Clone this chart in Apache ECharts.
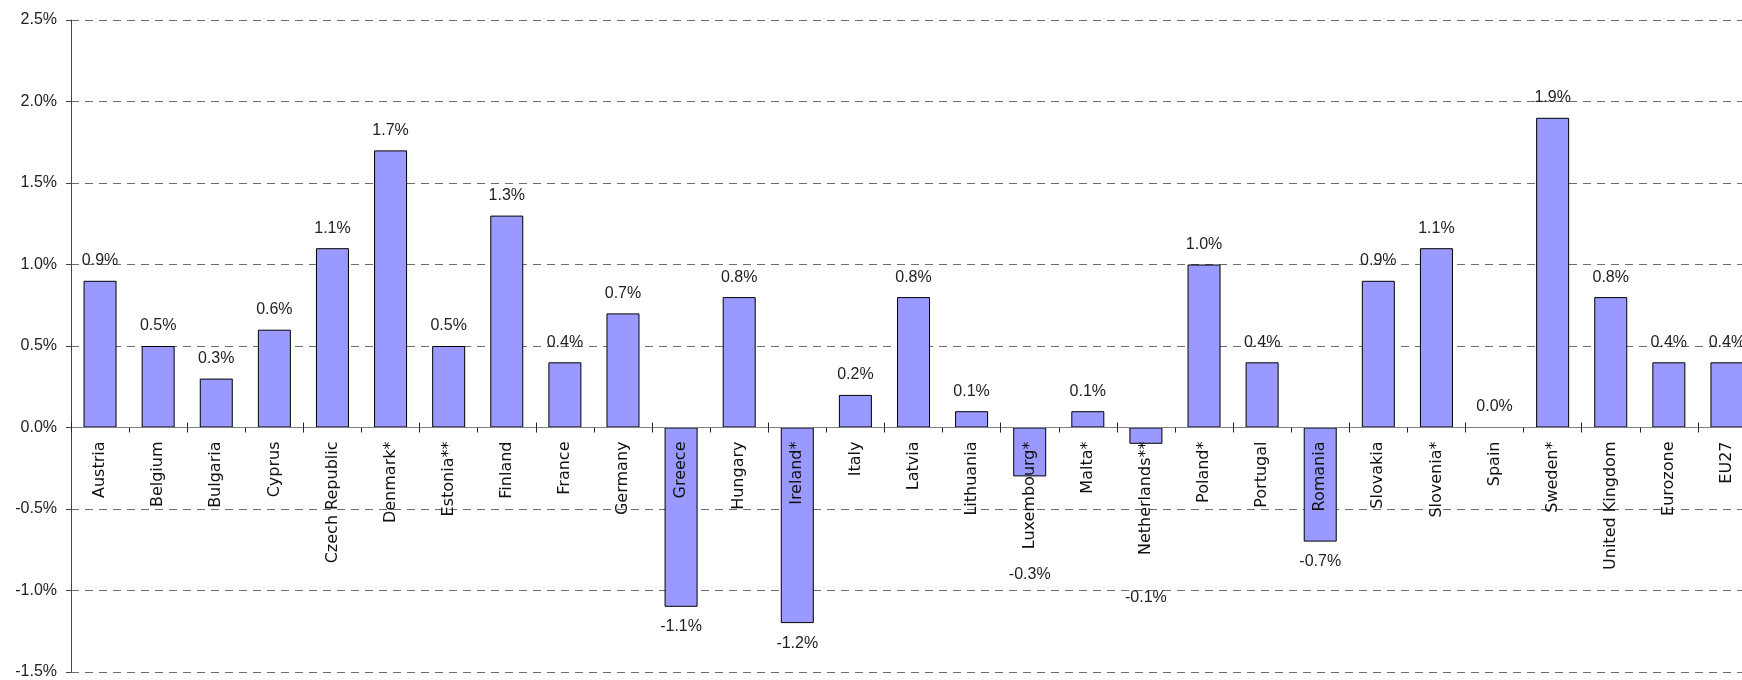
<!DOCTYPE html>
<html>
<head>
<meta charset="utf-8">
<script src="https://cdn.jsdelivr.net/npm/echarts@6/dist/echarts.min.js"></script>
<style>
  html, body { margin: 0; padding: 0; background: #fff; }
</style>
</head>
<body>
<div id="main" style="width:1742px; height:680px"></div>
<script>
var countries = ['Austria', 'Belgium', 'Bulgaria', 'Cyprus', 'Czech Republic', 'Denmark*', 'Estonia**',
  'Finland', 'France', 'Germany', 'Greece', 'Hungary', 'Ireland*', 'Italy', 'Latvia', 'Lithuania',
  'Luxembourg*', 'Malta*', 'Netherlands**', 'Poland*', 'Portugal', 'Romania', 'Slovakia', 'Slovenia*',
  'Spain', 'Sweden*', 'United Kingdom', 'Eurozone', 'EU27']
var growth = [0.9, 0.5, 0.3, 0.6, 1.1, 1.7, 0.5,
  1.3, 0.4, 0.7, -1.1, 0.8, -1.2, 0.2, 0.8, 0.1,
  -0.3, 0.1, -0.1, 1.0, 0.4, -0.7, 0.9, 1.1,
  0.0, 1.9, 0.8, 0.4, 0.4]
var yMin = -1.5
var yMax = 2.5
var yStep = 0.5

// a couple of the negative labels sit lower in the original (below the country name)
var labelDistance = { 'Luxembourg*': 90, 'Netherlands**': 146 }

var pct = function (v) { return v.toFixed(1) + '%' }

var myChart = echarts.init(document.getElementById('main'))
var gridTop = 20
var gridHeight = 652
// pixel distance from the bottom of the grid up to the zero line
var zeroOffset = gridHeight * (0 - yMin) / (yMax - yMin)

var option = {
  animation: false,
  grid: { left: 71, top: gridTop, width: 1685, height: gridHeight, outerBoundsMode: 'none', containLabel: false },
  xAxis: [
    {
      type: 'category',
      data: countries,
      position: 'bottom',
      offset: -zeroOffset,
      z: 5, // names are written over the negative bars
      axisLine: { onZero: false, lineStyle: { color: '#808080', width: 1 } },
      axisTick: { show: true, length: 5, lineStyle: { color: '#222' } },
      axisLabel: {
        interval: 0,
        rotate: 90,
        margin: 14,
        color: '#111',
        fontSize: 16,
        fontFamily: 'DejaVu Sans'
      }
    },
    {
      // second copy only to draw the tick marks above the zero line too
      type: 'category',
      data: countries,
      position: 'bottom',
      offset: -zeroOffset,
      z: 5,
      axisLine: { show: false, onZero: false },
      axisTick: { show: true, inside: true, length: 5, lineStyle: { color: '#222' } },
      axisLabel: { show: false }
    }
  ],
  yAxis: {
    type: 'value',
    min: yMin,
    max: yMax,
    interval: yStep,
    axisLine: { show: true, lineStyle: { color: '#444' } },
    axisTick: { show: true, length: 5, lineStyle: { color: '#444' } },
    axisLabel: {
      formatter: pct,
      margin: 14,
      color: '#222',
      fontSize: 16,
      fontFamily: 'Liberation Sans'
    },
    splitLine: { lineStyle: { color: '#6e6e6e', type: [8, 6], width: 1 } }
  },
  series: [
    {
      type: 'bar',
      barWidth: 33,
      itemStyle: { color: '#9999ff', borderColor: '#000', borderWidth: 1 },
      label: {
        show: true,
        formatter: function (p) { return pct(p.value) },
        color: '#222',
        fontSize: 16,
        fontFamily: 'Liberation Sans'
      },
      data: growth.map(function (v, i) {
        return {
          value: v,
          label: {
            position: v < 0 ? 'bottom' : 'top',
            distance: labelDistance[countries[i]] || 12
          }
        }
      })
    }
  ]
}
myChart.setOption(option)
</script>
</body>
</html>
